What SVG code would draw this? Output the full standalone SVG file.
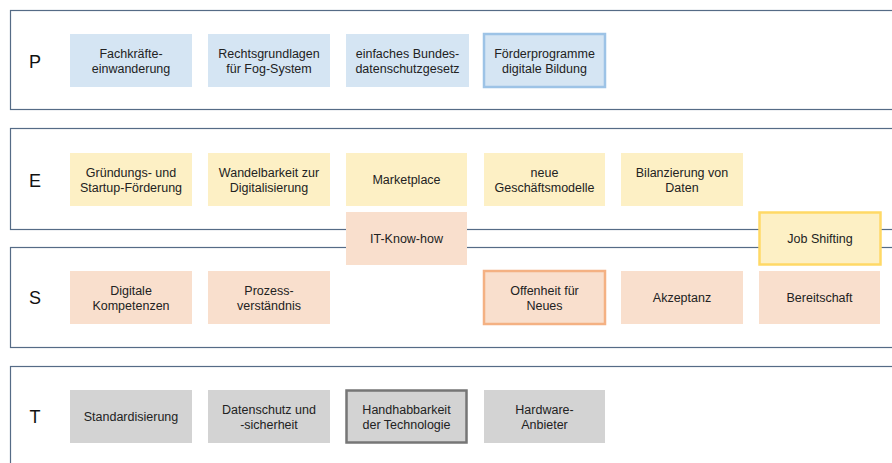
<svg xmlns="http://www.w3.org/2000/svg" width="892" height="463" viewBox="0 0 892 463">
<style>
.band{fill:#fff;stroke:#556b86;stroke-width:1.2}
.lbl{font-family:"Liberation Sans",Arial,sans-serif;font-size:18px;fill:#111;text-anchor:middle}
.t{font-family:"Liberation Sans",Arial,sans-serif;font-size:12.5px;fill:#222;text-anchor:middle}
.p{fill:#d5e5f3}
.e{fill:#fdf0c5}
.s{fill:#f9dfcd}
.g{fill:#d3d3d3}
</style>
<g id="bands">
<rect class="band" x="10.5" y="10.5" width="900" height="99"/>
<rect class="band" x="10.5" y="128.5" width="900" height="101"/>
<rect class="band" x="10.5" y="247.5" width="900" height="100"/>
<rect class="band" x="10.5" y="366.5" width="900" height="120"/>
<text class="lbl" x="35" y="68">P</text>
<text class="lbl" x="35" y="187">E</text>
<text class="lbl" x="35" y="304">S</text>
<text class="lbl" x="35" y="423">T</text>
</g>
<g id="connectors"></g>
<g id="p1"><rect class="p" x="70" y="34" width="122" height="53"/><text class="t" x="131" y="58">Fachkräfte-</text><text class="t" x="131" y="73">einwanderung</text></g>
<g id="p2"><rect class="p" x="208" y="34" width="122" height="53"/><text class="t" x="269" y="58">Rechtsgrundlagen</text><text class="t" x="269" y="73">für Fog-System</text></g>
<g id="p3"><rect class="p" x="346" y="34" width="123" height="53"/><text class="t" x="407.5" y="58">einfaches Bundes-</text><text class="t" x="407.5" y="73">datenschutzgesetz</text></g>
<g id="p4"><rect class="p" x="484" y="34" width="121" height="53" stroke="#9dc3e6" stroke-width="2.5"/><text class="t" x="544.5" y="58">Förderprogramme</text><text class="t" x="544.5" y="73">digitale Bildung</text></g>

<g id="e1"><rect class="e" x="70" y="153" width="122" height="53"/><text class="t" x="131" y="177">Gründungs- und</text><text class="t" x="131" y="192">Startup-Förderung</text></g>
<g id="e2"><rect class="e" x="208" y="153" width="122" height="53"/><text class="t" x="269" y="177">Wandelbarkeit zur</text><text class="t" x="269" y="192">Digitalisierung</text></g>
<g id="e3"><rect class="e" x="346" y="153" width="121" height="53"/><text class="t" x="406.5" y="184">Marketplace</text></g>
<g id="e4"><rect class="e" x="484" y="153" width="121" height="53"/><text class="t" x="544.5" y="177">neue</text><text class="t" x="544.5" y="192">Geschäftsmodelle</text></g>
<g id="e5"><rect class="e" x="621" y="153" width="122" height="53"/><text class="t" x="682" y="177">Bilanzierung von</text><text class="t" x="682" y="192">Daten</text></g>

<g id="s0"><rect class="s" x="346" y="212" width="121" height="53"/><text class="t" x="406.5" y="243">IT-Know-how</text></g>
<g id="e6"><rect class="e" x="759.5" y="212.5" width="121" height="52" stroke="#ffd966" stroke-width="2.5"/><text class="t" x="820" y="243">Job Shifting</text></g>

<g id="s1"><rect class="s" x="70" y="271" width="122" height="53"/><text class="t" x="131" y="295">Digitale</text><text class="t" x="131" y="310">Kompetenzen</text></g>
<g id="s2"><rect class="s" x="208" y="271" width="122" height="53"/><text class="t" x="269" y="295">Prozess-</text><text class="t" x="269" y="310">verständnis</text></g>
<g id="s3"><rect class="s" x="484" y="271" width="121" height="53" stroke="#f4b183" stroke-width="2.5"/><text class="t" x="544.5" y="295">Offenheit für</text><text class="t" x="544.5" y="310">Neues</text></g>
<g id="s4"><rect class="s" x="621" y="271" width="122" height="53"/><text class="t" x="682" y="302">Akzeptanz</text></g>
<g id="s5"><rect class="s" x="759" y="271" width="121" height="53"/><text class="t" x="819.5" y="302">Bereitschaft</text></g>

<g id="t1"><rect class="g" x="70" y="390" width="122" height="53"/><text class="t" x="131" y="421">Standardisierung</text></g>
<g id="t2"><rect class="g" x="208" y="390" width="122" height="53"/><text class="t" x="269" y="414">Datenschutz und</text><text class="t" x="269" y="429">-sicherheit</text></g>
<g id="t3"><rect class="g" x="346.5" y="390.5" width="120" height="52" stroke="#767676" stroke-width="2.5"/><text class="t" x="406.5" y="414">Handhabbarkeit</text><text class="t" x="406.5" y="429">der Technologie</text></g>
<g id="t4"><rect class="g" x="484" y="390" width="121" height="53"/><text class="t" x="544.5" y="414">Hardware-</text><text class="t" x="544.5" y="429">Anbieter</text></g>
</svg>
